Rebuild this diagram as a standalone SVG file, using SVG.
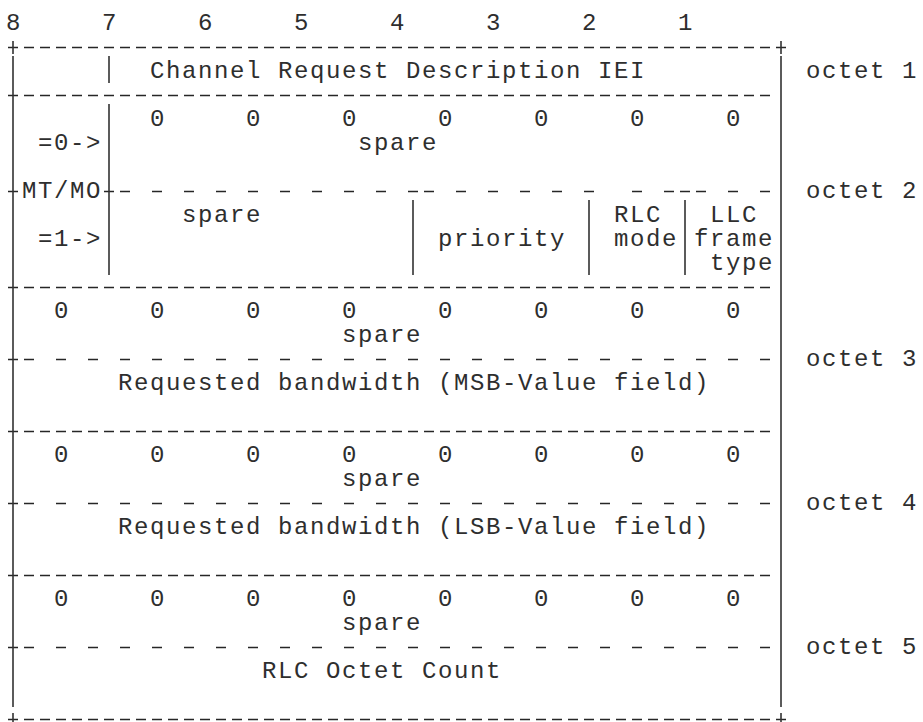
<svg xmlns="http://www.w3.org/2000/svg" width="923" height="722" viewBox="0 0 923 722">
<style>
.t{font-family:"Liberation Mono","DejaVu Sans Mono",monospace;font-size:24px;letter-spacing:1.6px;fill:#2e2e2e}
.l{stroke:#262626;stroke-width:1.3;fill:none}
.v{stroke:#333;stroke-width:1.6;fill:none}
.d{stroke-dasharray:10 6}
.a{stroke-dasharray:10 22}
</style>
<rect width="923" height="722" fill="#fff"/>
<g id="rules">
<path class="l d" d="M8 47.5H786M8 95.5H770M8 287.5H770M8 431.5H770M8 575.5H770M8 719.5H786"/>
<path class="l" d="M8 359.5h10M8 503.5h10M8 647.5h10"/>
<path class="l a" d="M24 359.5H770M24 503.5H770M24 647.5H770"/>
<path class="l" d="M8 191.5h10M104 191.5h10M120 191.5h10M152 191.5h10M184 191.5h10M216 191.5h10M248 191.5h10M280 191.5h10M312 191.5h10M344 191.5h10M376 191.5h10M408 191.5h10M424 191.5h10M456 191.5h10M488 191.5h10M520 191.5h10M552 191.5h10M584 191.5h10M632 191.5h10M664 191.5h10M680 191.5h10M696 191.5h10M728 191.5h10M760 191.5h10"/>
<path class="v" d="M13 41V54M13 56V707M13 713V726M781 41V54M781 56V707M781 713V726M109 56V83M109 104V275M413 200V275M589 200V275M685 200V275"/>
</g>
<g id="bits">
<text class="t" x="6" y="30">8</text><text class="t" x="102" y="30">7</text><text class="t" x="198" y="30">6</text><text class="t" x="294" y="30">5</text><text class="t" x="390" y="30">4</text><text class="t" x="486" y="30">3</text><text class="t" x="582" y="30">2</text><text class="t" x="678" y="30">1</text>
</g>
<g id="octet1">
<text class="t" x="150" y="78">Channel Request Description IEI</text>
<text class="t" x="806" y="78">octet 1</text>
</g>
<g id="octet2">
<text class="t" x="150" y="126">0</text><text class="t" x="246" y="126">0</text><text class="t" x="342" y="126">0</text><text class="t" x="438" y="126">0</text><text class="t" x="534" y="126">0</text><text class="t" x="630" y="126">0</text><text class="t" x="726" y="126">0</text>
<text class="t" x="38" y="150">=0-&gt;</text>
<text class="t" x="358" y="150">spare</text>
<text class="t" x="22" y="198">MT/MO</text>
<text class="t" x="806" y="198">octet 2</text>
<text class="t" x="182" y="222">spare</text>
<text class="t" x="614" y="222">RLC</text>
<text class="t" x="710" y="222">LLC</text>
<text class="t" x="38" y="246">=1-&gt;</text>
<text class="t" x="438" y="246">priority</text>
<text class="t" x="614" y="246">mode</text>
<text class="t" x="694" y="246">frame</text>
<text class="t" x="710" y="270">type</text>
</g>
<g id="octet3">
<text class="t" x="54" y="318">0</text><text class="t" x="150" y="318">0</text><text class="t" x="246" y="318">0</text><text class="t" x="342" y="318">0</text><text class="t" x="438" y="318">0</text><text class="t" x="534" y="318">0</text><text class="t" x="630" y="318">0</text><text class="t" x="726" y="318">0</text>
<text class="t" x="342" y="342">spare</text>
<text class="t" x="806" y="366">octet 3</text>
<text class="t" x="118" y="390">Requested bandwidth (MSB-Value field)</text>
</g>
<g id="octet4">
<text class="t" x="54" y="462">0</text><text class="t" x="150" y="462">0</text><text class="t" x="246" y="462">0</text><text class="t" x="342" y="462">0</text><text class="t" x="438" y="462">0</text><text class="t" x="534" y="462">0</text><text class="t" x="630" y="462">0</text><text class="t" x="726" y="462">0</text>
<text class="t" x="342" y="486">spare</text>
<text class="t" x="806" y="510">octet 4</text>
<text class="t" x="118" y="534">Requested bandwidth (LSB-Value field)</text>
</g>
<g id="octet5">
<text class="t" x="54" y="606">0</text><text class="t" x="150" y="606">0</text><text class="t" x="246" y="606">0</text><text class="t" x="342" y="606">0</text><text class="t" x="438" y="606">0</text><text class="t" x="534" y="606">0</text><text class="t" x="630" y="606">0</text><text class="t" x="726" y="606">0</text>
<text class="t" x="342" y="630">spare</text>
<text class="t" x="806" y="654">octet 5</text>
<text class="t" x="262" y="678">RLC Octet Count</text>
</g>
</svg>
